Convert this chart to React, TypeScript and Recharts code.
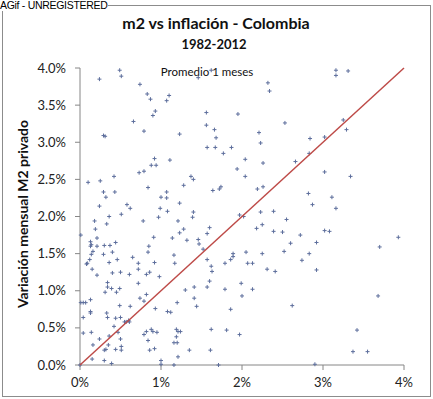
import React from 'react';
import { ScatterChart, Scatter, XAxis, YAxis } from 'recharts';

// inflación mensual (promedio 1 mes), en %
const inflacion = [
  0.49, 0.51, 0.24, 0.74, 0.83, 0.87, 1.10, 1.07, 0.93, 0.90,
  0.66, 0.79, 0.29, 0.31, 1.23, 0.92, 1.11, 0.88, 0.94, 0.73,
  0.79, 0.42, 0.10, 0.25, 1.28, 0.84, 0.29, 0.43, 0.32, 1.07,
  1.07, 1.00, 0.24, 0.58, 0.62, 0.99, 1.08, 1.23, 1.46, 1.62,
  2.32, 2.34, 1.56, 1.95, 2.53, 1.56, 1.66, 2.21, 1.68, 2.23,
  1.57, 1.67, 1.87, 1.77, 2.04, 2.26, 1.94, 2.04, 1.37, 1.40,
  1.64, 1.72, 1.74, 2.19, 2.26, 1.40, 2.23, 2.39, 3.16, 3.16,
  3.31, 3.25, 3.29, 2.84, 3.02, 2.83, 2.66, 3.02, 3.34, 2.82,
  3.11, 2.87, 3.16, 3.93, 3.70, 3.68, 3.42, 3.37, 3.55, 2.90,
  2.72, 3.02, 3.08, 2.92, 2.83, 2.74, 2.92, 2.62, 1.39, 1.97,
  2.02, 2.55, 1.60, 1.57, 2.25, 2.18, 2.39, 2.50, 1.32, 1.46,
  1.47, 1.52, 2.60, 2.52, 1.89, 1.89, 1.86, 2.05, 2.25, 1.57,
  1.79, 1.62, 1.63, 2.07, 2.13, 2.31, 2.41, 1.60, 1.99, 1.30,
  1.41, 1.57, 1.79, 2.13, 2.00, 1.41, 1.44, 1.86, 1.62, 1.81,
  1.97, 1.35, 1.61, 1.71, 0.18, 0.36, 0.51, 0.33, 0.01, 0.78,
  0.97, 1.21, 1.28, 1.23, 0.19, 0.21, 0.13, 0.14, 0.13, 0.21,
  0.30, 0.37, 0.44, 0.40, 0.16, 0.14, 0.12, 0.29, 0.36, 0.46,
  0.09, 0.08, 0.15, 0.21, 0.40, 0.50, 0.65, 0.72, 0.72, 0.82,
  0.86, 0.85, 0.84, 0.91, 0.92, 0.98, 1.14, 1.16, 1.17, 0.61,
  0.34, 0.34, 0.39, 0.49, 0.45, 0.31, 0.72, 0.74, 0.79, 0.82,
  0.49, 0.62, 0.93, 0.01, 0.04, 0.07, 0.13, 0.04, 0.13, 0.13,
  0.33, 0.34, 0.44, 0.50, 0.55, 0.57, 0.60, 0.61, 0.42, 0.47,
  0.36, 0.04, 0.14, 0.79, 0.82, 0.88, 0.90, 0.95, 1.08, 1.12,
  1.20, 1.19, 1.21, 1.24, 1.19, 1.20, 1.16, 0.50, 0.84, 0.24,
  0.16, 0.35, 0.32, 0.30, 0.51, 0.51, 0.44, 0.86, 0.92, 1.21,
  0.15, 0.30, 0.39, 0.00, 1.00, 1.00, 1.16,
];

// variación mensual M2 privado, en %
const m2Privado = [
  3.97, 3.89, 3.85, 3.78, 3.65, 3.58, 3.63, 3.56, 3.42, 3.36,
  3.28, 3.15, 3.09, 3.08, 3.11, 2.78, 2.76, 2.69, 2.69, 2.59,
  2.61, 2.54, 2.46, 2.48, 2.42, 2.39, 2.33, 2.33, 2.26, 2.33,
  2.25, 2.26, 2.14, 2.16, 2.11, 2.11, 2.07, 2.18, 3.87, 3.97,
  3.80, 3.69, 3.40, 3.38, 3.26, 3.23, 3.17, 3.13, 3.06, 2.99,
  2.93, 2.93, 2.93, 2.85, 2.77, 2.72, 2.64, 2.54, 2.54, 2.50,
  2.35, 2.37, 2.40, 2.37, 2.40, 2.06, 2.06, 2.07, 3.97, 3.90,
  3.96, 3.30, 3.17, 3.05, 3.07, 2.85, 2.74, 2.60, 2.54, 2.31,
  2.26, 2.16, 2.11, 1.72, 1.59, 0.93, 0.47, 0.18, 0.18, 0.01,
  1.75, 1.81, 1.80, 1.65, 1.50, 1.41, 1.28, 0.80, 1.99, 2.02,
  2.00, 1.96, 1.85, 1.77, 1.89, 1.84, 1.80, 1.79, 1.68, 1.69,
  1.63, 1.56, 1.64, 1.53, 1.50, 1.46, 1.42, 1.52, 1.50, 1.42,
  1.37, 1.33, 1.26, 1.37, 1.37, 1.29, 1.26, 1.13, 1.10, 1.01,
  1.05, 1.05, 1.02, 1.02, 0.93, 0.90, 0.79, 0.75, 0.48, 0.47,
  0.41, 0.20, 0.20, 0.00, 1.94, 2.00, 2.03, 1.90, 1.75, 1.94,
  1.99, 1.94, 1.83, 1.78, 1.83, 1.71, 1.66, 1.62, 1.60, 1.60,
  1.61, 1.61, 1.65, 1.52, 1.53, 1.49, 1.42, 1.49, 1.38, 1.42,
  1.37, 1.36, 1.29, 1.21, 1.24, 1.25, 1.45, 1.37, 1.29, 1.22,
  1.25, 1.60, 1.52, 1.72, 1.38, 1.19, 1.71, 1.48, 1.37, 1.22,
  1.11, 1.05, 1.03, 1.03, 0.98, 0.98, 1.10, 0.90, 0.86, 0.95,
  0.80, 0.79, 0.76, 0.84, 0.84, 0.84, 0.88, 0.64, 0.72, 0.70,
  0.70, 0.64, 0.63, 0.64, 0.58, 0.58, 0.60, 0.58, 0.52, 0.44,
  0.39, 0.43, 0.44, 0.41, 0.45, 0.48, 0.45, 0.44, 0.72, 0.71,
  0.84, 0.48, 0.45, 0.45, 0.38, 0.30, 0.30, 0.35, 0.33, 0.35,
  0.27, 0.27, 0.21, 0.20, 0.25, 0.20, 0.21, 0.20, 0.22, 0.11,
  0.08, 0.06, 0.02, 0.00, 0.06, 0.01, 0.00,
];

const xTicks = [0, 1, 2, 3, 4];
const yTicks = [0, 0.5, 1, 1.5, 2, 2.5, 3, 3.5, 4];
const diagonalX = [0, 4];
const diagonalY = [0, 4];

const points = inflacion.map((x, i) => ({ x, y: m2Privado[i] }));
const diagonal = diagonalX.map((x, i) => ({ x, y: diagonalY[i] }));

const font = 'Lato, "Open Sans", sans-serif';
const axisColor = '#868686';

// small "+" marker like the original Excel series
const Plus = (props: any) => {
  const { cx, cy } = props;
  return (
    <path
      d={`M${cx - 2},${cy}h4M${cx},${cy - 2}v4`}
      stroke="#5d6e9c"
      strokeWidth={1}
      fill="none"
    />
  );
};

const NoDot = () => <g />;

export default function App() {
  return (
    <div style={{ position: 'absolute', left: 0, top: 0, width: 433, height: 399, background: '#fff', fontFamily: font }}>
      <div style={{ position: 'absolute', left: 2, top: 5, width: 427, height: 390, border: '1px solid #8c8c8c' }} />
      <div style={{ position: 'absolute', left: 0, top: 0 }}>
        <ScatterChart width={433} height={399} margin={{ top: 68, right: 29, bottom: 0, left: 0 }}>
          <XAxis
            type="number"
            dataKey="x"
            domain={[0, 4]}
            ticks={xTicks}
            interval={0}
            height={34}
            stroke={axisColor}
            tickSize={5}
            tickMargin={8}
            tickFormatter={(v: number) => `${v}%`}
            tick={{ fill: '#222', fontSize: 13, fontFamily: font }}
          />
          <YAxis
            type="number"
            dataKey="y"
            domain={[0, 4]}
            ticks={yTicks}
            interval={0}
            width={80}
            stroke={axisColor}
            tickSize={5}
            tickMargin={9}
            tickFormatter={(v: number) => `${v.toFixed(1)}%`}
            tick={{ fill: '#222', fontSize: 13, fontFamily: font }}
          />
          <Scatter data={points} shape={Plus} isAnimationActive={false} />
          <Scatter
            data={diagonal}
            line={{ stroke: '#be4b48', strokeWidth: 1.5 }}
            shape={NoDot}
            isAnimationActive={false}
          />
        </ScatterChart>
      </div>
      <div style={{ position: 'absolute', left: 216, top: 22, transform: 'translate(-50%, -50%)', fontSize: 16, fontWeight: 700, whiteSpace: 'nowrap', color: '#111' }}>
        m2 vs inflación - Colombia
      </div>
      <div style={{ position: 'absolute', left: 214, top: 44, transform: 'translate(-50%, -50%)', fontSize: 13, fontWeight: 700, whiteSpace: 'nowrap', color: '#111' }}>
        1982-2012
      </div>
      <div style={{ position: 'absolute', left: 207, top: 71, transform: 'translate(-50%, -50%)', fontSize: 11.5, whiteSpace: 'nowrap', color: '#111' }}>
        Promedio 1 meses
      </div>
      <div style={{ position: 'absolute', left: 22, top: 214, transform: 'translate(-50%, -50%) rotate(-90deg)', fontSize: 14, fontWeight: 700, whiteSpace: 'nowrap', color: '#111' }}>
        Variación mensual M2 privado
      </div>
      <div style={{ position: 'absolute', left: 0, top: -1, fontFamily: '"Liberation Sans", Arial, sans-serif', fontSize: 10.5, letterSpacing: -0.3, background: '#fff', paddingRight: 1, lineHeight: '12px', color: '#000' }}>
        AGif - UNREGISTERED
      </div>
    </div>
  );
}
